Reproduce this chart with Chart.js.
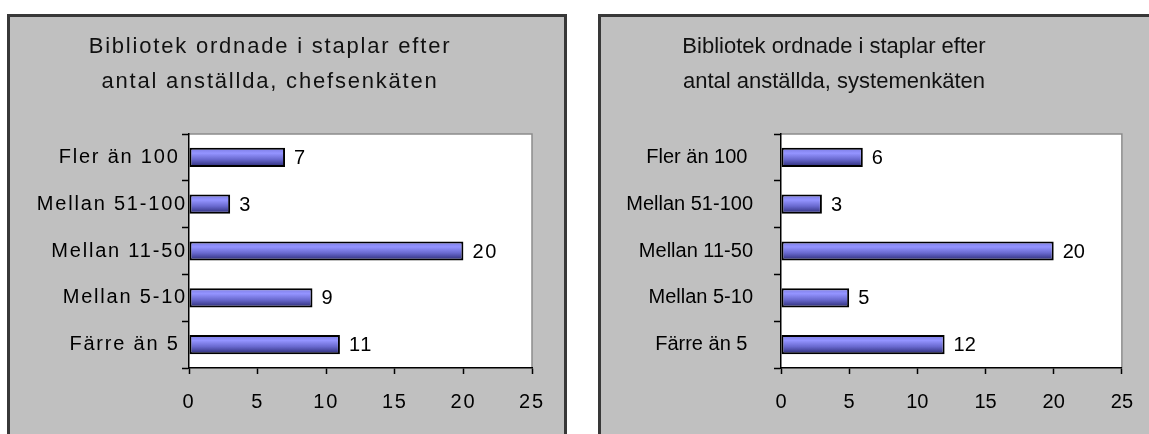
<!DOCTYPE html>
<html>
<head>
<meta charset="utf-8">
<script src="https://cdn.jsdelivr.net/npm/chart.js@4.4.1/dist/chart.umd.min.js"></script>
<style>
  html, body { margin: 0; padding: 0; background: #fff; overflow: hidden; }
  body { width: 1149px; height: 434px; position: relative; }
  .panel { position: absolute; top: 14px; width: 560px; height: 440px; background: #c0c0c0; border: 3px solid #383838; box-sizing: border-box; }
  #p1 { left: 7px; }
  #p2 { left: 598px; }
  canvas { position: absolute; top: 17px; }
  #c1 { left: 10px; }
  #c2 { left: 601px; }
</style>
</head>
<body>
<div class="panel" id="p1"></div>
<div class="panel" id="p2"></div>
<canvas id="c1" width="554" height="417"></canvas>
<canvas id="c2" width="548" height="417"></canvas>
<script>
const categories = ['Fler än 100 ', 'Mellan 51-100', 'Mellan 11-50', 'Mellan 5-10', 'Färre än 5 '];
const chefValues = [7, 3, 20, 9, 11];
const systemValues = [6, 3, 20, 5, 12];
const xTicks = [0, 5, 10, 15, 20, 25];
const chefTitle = ['Bibliotek ordnade i staplar efter', 'antal anställda, chefsenkäten'];
const systemTitle = ['Bibliotek ordnade i staplar efter', 'antal anställda, systemenkäten'];

const FONT = "'Liberation Sans', Arial, sans-serif";

// the left picture has wide letter spacing, the right one none
const spacing = {
  id: 'spacing',
  beforeUpdate(chart, args, opts) { chart.ctx.letterSpacing = opts.px + 'px'; },
  beforeDraw(chart, args, opts) { chart.ctx.letterSpacing = opts.px + 'px'; }
};

const plotArea = {
  id: 'plotArea',
  beforeDraw(chart) {
    const { ctx, chartArea: a } = chart;
    ctx.save();
    ctx.fillStyle = '#fff';
    ctx.fillRect(a.left, a.top, a.right - a.left, a.bottom - a.top);
    ctx.strokeStyle = '#8c8c8c';
    ctx.lineWidth = 1.5;
    ctx.beginPath();
    ctx.moveTo(a.left, a.top);
    ctx.lineTo(a.right, a.top);
    ctx.lineTo(a.right, a.bottom);
    ctx.stroke();
    ctx.restore();
  }
};

const panelTitle = {
  id: 'panelTitle',
  afterDraw(chart, args, opts) {
    const ctx = chart.ctx;
    ctx.save();
    ctx.font = '22px ' + FONT;
    ctx.fillStyle = '#111';
    ctx.textAlign = 'center';
    ctx.textBaseline = 'alphabetic';
    opts.lines.forEach((t, i) => ctx.fillText(t, opts.x, opts.y + i * 35));
    ctx.restore();
  }
};

const valueLabels = {
  id: 'valueLabels',
  afterDatasetsDraw(chart) {
    const ctx = chart.ctx;
    const values = chart.data.datasets[0].data;
    ctx.save();
    ctx.font = '20px ' + FONT;
    ctx.fillStyle = '#000';
    ctx.textAlign = 'left';
    ctx.textBaseline = 'middle';
    chart.getDatasetMeta(0).data.forEach((bar, i) => {
      ctx.fillText(String(values[i]), bar.x + 9, bar.y + 1);
    });
    ctx.restore();
  }
};

function barFill(c) {
  const chart = c.chart;
  const y = chart.scales.y;
  if (!chart.chartArea || !y || c.type !== 'data') return '#7070dc';
  const mid = y.getPixelForValue(c.dataIndex);
  const half = (y.height / categories.length) * 0.4 / 2;
  const g = chart.ctx.createLinearGradient(0, mid - half, 0, mid + half);
  g.addColorStop(0, '#7c7ce4');
  g.addColorStop(0.28, '#9494ff');
  g.addColorStop(0.6, '#6a6ad0');
  g.addColorStop(1, '#2a2a74');
  return g;
}

function makeChart(id, values, title, o) {
  return new Chart(document.getElementById(id), {
    type: 'bar',
    data: {
      labels: categories,
      datasets: [{
        data: values,
        backgroundColor: barFill,
        borderColor: '#000',
        borderWidth: 2,
        borderSkipped: false,
        categoryPercentage: 1,
        barPercentage: 0.41
      }]
    },
    plugins: [spacing, plotArea, panelTitle, valueLabels],
    options: {
      indexAxis: 'y',
      responsive: false,
      animation: false,
      devicePixelRatio: 1,
      events: [],
      layout: { padding: { top: 117, right: o.padRight, left: 0, bottom: 0 } },
      plugins: {
        legend: { display: false },
        tooltip: { enabled: false },
        spacing: { px: o.spacing },
        panelTitle: { lines: title, x: o.titleX, y: 36 }
      },
      scales: {
        x: {
          type: 'linear',
          min: 0,
          max: 25,
          afterBuildTicks: s => { s.ticks = xTicks.map(v => ({ value: v })); },
          afterFit: s => { s.height = 66; },
          grid: { drawOnChartArea: false, color: '#000', tickLength: 6, tickWidth: 1.5 },
          border: { color: '#000', width: 1.5 },
          ticks: { font: { size: 20, family: FONT }, color: '#000', padding: 16, maxRotation: 0 }
        },
        y: {
          afterFit: s => { s.width = o.yWidth; },
          grid: { drawOnChartArea: false, color: '#000', tickLength: 7, tickWidth: 1.5, offset: true },
          border: { color: '#000', width: 1.5 },
          ticks: { font: { size: 20, family: FONT }, color: '#000', padding: o.yPad, autoSkip: false }
        }
      }
    }
  });
}

makeChart('c1', chefValues, chefTitle, { spacing: 1.8, padRight: 32, yWidth: 179, yPad: -5, titleX: 260 });
makeChart('c2', systemValues, systemTitle, { spacing: 0, padRight: 22, yWidth: 180, yPad: 21, titleX: 233 });
</script>
</body>
</html>
